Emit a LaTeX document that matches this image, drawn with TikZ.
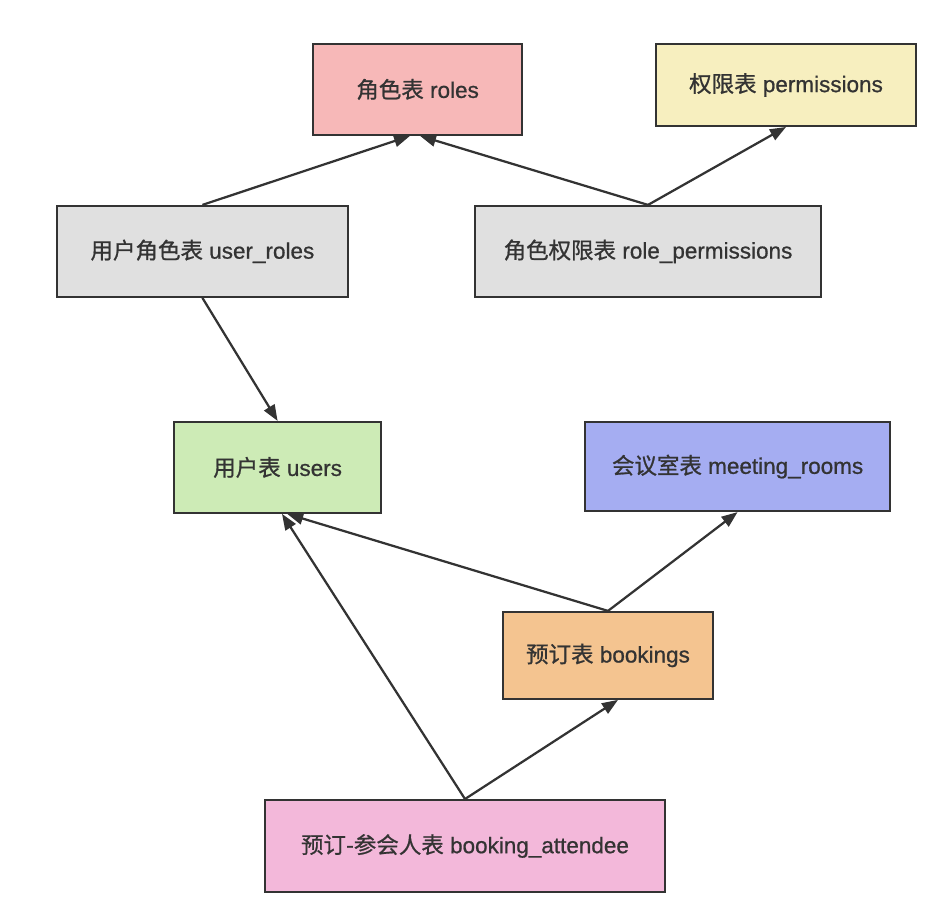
\documentclass[tikz,border=0pt]{standalone}
\usepackage{fontspec}
\setmainfont[FakeBold=0.8]{Liberation Sans}
\newfontfamily\zhfont[FakeBold=0.8]{Noto Sans CJK SC}
\newcommand{\zh}[1]{{\zhfont #1}}
\usetikzlibrary{arrows.meta}
\definecolor{edgegray}{HTML}{333333}
\definecolor{rolesfill}{HTML}{F7B8B8}
\definecolor{permfill}{HTML}{F7EFBF}
\definecolor{linkfill}{HTML}{E0E0E0}
\definecolor{usersfill}{HTML}{CDEBB6}
\definecolor{roomsfill}{HTML}{A5ADF2}
\definecolor{bookfill}{HTML}{F4C490}
\definecolor{attendfill}{HTML}{F3B8DA}
\tikzset{
  tbl/.style={draw=edgegray, line width=1.4pt, text=edgegray,
    minimum height=2.275cm, inner sep=0pt,
    font=\fontsize{16}{19}\selectfont},
  rel/.style={draw=edgegray, line width=1.6pt,
    -{Triangle[length=0.4cm,width=0.3cm]}}
}
\begin{document}
\begin{tikzpicture}
\useasboundingbox (0,0) rectangle (23.5,22.475);
%
\node[tbl, fill=rolesfill, minimum width=5.225cm] (roles) at (10.44,20.24)
  {\zh{角色表} roles};
\node[tbl, fill=permfill, minimum width=6.5cm, minimum height=2.05cm]
  (perm) at (19.65,20.35) {\zh{权限表} permissions};
%
\node[tbl, fill=linkfill, minimum width=7.275cm] (userroles) at (5.06,16.19)
  {\zh{用户角色表} user\_roles};
\node[tbl, fill=linkfill, minimum width=8.65cm] (roleperm) at (16.2,16.19)
  {\zh{角色权限表} role\_permissions};
%
\node[tbl, fill=usersfill, minimum width=5.175cm] (users) at (6.94,10.79)
  {\zh{用户表} users};
\node[tbl, fill=roomsfill, minimum width=7.625cm, minimum height=2.225cm]
  (rooms) at (18.44,10.81) {\zh{会议室表} meeting\_rooms};
%
\node[tbl, fill=bookfill, minimum width=5.25cm, minimum height=2.175cm]
  (book) at (15.2,6.09) {\zh{预订表} bookings};
\node[tbl, fill=attendfill, minimum width=10cm, minimum height=2.3cm]
  (attend) at (11.625,1.325) {\zh{预订-参会人表} booking\_attendee};
%
\draw[rel] (userroles.north) -- ([xshift=-0.19cm]roles.south);
\draw[rel] (roleperm.north) -- ([xshift=0.06cm]roles.south);
\draw[rel] (roleperm.north) -- (perm.south);
%
\draw[rel] (userroles.south) -- (users.north);
%
\draw[rel] (book.north) -- ([xshift=0.24cm]users.south);
\draw[rel] (book.north) -- (rooms.south);
\draw[rel] (attend.north) -- ([xshift=0.11cm]users.south);
\draw[rel] (attend.north) -- ([xshift=0.25cm]book.south);
\end{tikzpicture}
\end{document}
